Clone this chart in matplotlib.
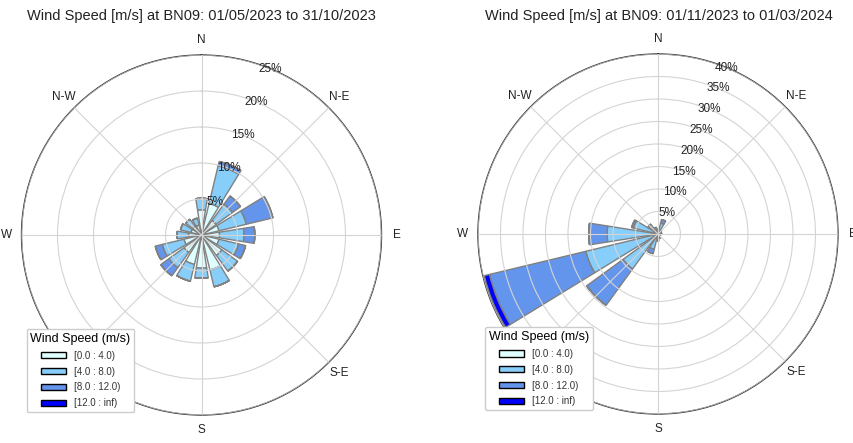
import numpy as np
import matplotlib
matplotlib.use('Agg')
import matplotlib.pyplot as plt
from matplotlib.patches import Patch

plt.rcParams['font.family'] = ['Liberation Sans', 'DejaVu Sans']

# 16 sectors, clockwise from north
directions = ['N', 'NNE', 'NE', 'ENE', 'E', 'ESE', 'SE', 'SSE',
              'S', 'SSW', 'SW', 'WSW', 'W', 'WNW', 'NW', 'NNW']
bin_labels = ['[0.0 : 4.0)', '[4.0 : 8.0)', '[8.0 : 12.0)', '[12.0 : inf)']
bin_colors = ['#E0FFFF', '#87CEFA', '#6495ED', '#0000FF']

# summer: 01/05/2023 - 31/10/2023 (frequency in %)
summer_0_4 = [3.5, 4.5, 2.5, 2.5, 2.5, 2.5, 3.5, 5.0, 4.6, 4.2, 3.0, 2.5, 1.8, 1.5, 1.5, 1.4]
summer_4_8 = [1.6, 5.4, 2.8, 3.9, 3.4, 2.8, 2.7, 2.4, 1.4, 2.4, 2.6, 3.1, 1.6, 1.5, 1.2, 1.0]
summer_8_12 = [0.0, 0.6, 1.4, 3.8, 1.5, 1.0, 0.0, 0.0, 0.0, 0.0, 1.4, 1.0, 0.0, 0.0, 0.0, 0.0]
summer_12_inf = [0.0] * 16

# winter: 01/11/2023 - 01/03/2024 (frequency in %)
winter_0_4 = [0.3, 0.5, 0.3, 0.3, 0.3, 0.2, 0.2, 0.3, 0.5, 0.8, 0.8, 1.0, 0.8, 0.8, 0.8, 0.5]
winter_4_8 = [0.7, 2.0, 0.7, 0.5, 0.5, 0.3, 0.3, 0.7, 1.0, 2.7, 8.8, 15.5, 10.5, 4.8, 1.9, 1.0]
winter_8_12 = [0.0, 0.8, 0.0, 0.0, 0.0, 0.0, 0.0, 0.0, 0.0, 1.0, 10.0, 22.0, 4.1, 0.4, 0.0, 0.0]
winter_12_inf = [0.0, 0.0, 0.0, 0.0, 0.0, 0.0, 0.0, 0.0, 0.0, 0.0, 0.0, 1.2, 0.0, 0.0, 0.0, 0.0]

compass = ['N', 'N-E', 'E', 'S-E', 'S', 'S-W', 'W', 'N-W']


def draw_rose(ax, bins, rmax):
    ax.set_theta_zero_location('N')
    ax.set_theta_direction(-1)
    theta = np.deg2rad(np.arange(len(directions)) * 360.0 / len(directions))
    width = 2 * np.pi / len(directions) * 0.8

    bottom = np.zeros(len(directions))
    for vals, col in zip(bins, bin_colors):
        vals = np.array(vals)
        ax.bar(theta, vals, width=width, bottom=bottom, color=col,
               edgecolor='grey', linewidth=1.0, zorder=2)
        bottom += vals

    ax.set_ylim(0, rmax)
    ticks = np.arange(5, rmax + 1, 5)
    ax.set_yticks(ticks)
    ax.set_yticklabels([])
    # ring labels centred on the rings, NNE side
    for t in ticks:
        ax.text(np.deg2rad(22.5), t, f'{t}%', ha='center', va='center',
                fontsize=8.5, color='#222222', zorder=5)
    ax.set_xticks(np.deg2rad(np.arange(0, 360, 45)))
    ax.set_xticklabels(compass, fontsize=8.5, color='#222222')
    ax.tick_params(axis='x', pad=0.5)
    ax.grid(True, color='#d4d4d4', linewidth=0.8, zorder=3)
    ax.set_axisbelow(False)
    ax.spines['polar'].set_color('#333333')
    ax.spines['polar'].set_linewidth(1.0)
    ax.set_facecolor('white')


fig = plt.figure(figsize=(8.54, 4.43), dpi=100)

ax1 = fig.add_axes([0.0252, 0.0632, 0.4215, 0.8126], projection='polar')
draw_rose(ax1, [summer_0_4, summer_4_8, summer_8_12, summer_12_inf], 25)

ax2 = fig.add_axes([0.5597, 0.0655, 0.4215, 0.8126], projection='polar')
draw_rose(ax2, [winter_0_4, winter_4_8, winter_8_12, winter_12_inf], 40)

fig.text(0.236, 0.965, 'Wind Speed [m/s] at BN09: 01/05/2023 to 31/10/2023',
         ha='center', va='center', fontsize=10.5, color='#222222')
fig.text(0.771, 0.965, 'Wind Speed [m/s] at BN09: 01/11/2023 to 01/03/2024',
         ha='center', va='center', fontsize=10.5, color='#222222')

handles = [Patch(facecolor=c, edgecolor='black', linewidth=1.0) for c in bin_colors]
for ax, anchor in [(ax1, (0.0254, 0.0587)), (ax2, (0.562, 0.063))]:
    leg = ax.legend(handles, bin_labels, title='Wind Speed (m/s)',
                    loc='lower left', bbox_to_anchor=anchor,
                    bbox_transform=fig.transFigure, fontsize=7,
                    title_fontsize=9, handlelength=2.6, handleheight=0.6,
                    handletextpad=0.8, labelspacing=0.6, borderpad=0.4,
                    framealpha=1.0, edgecolor='#cccccc')
    for t in leg.get_texts():
        t.set_color('#333333')
    leg.set_zorder(10)

fig.savefig('out.png', dpi=100)
